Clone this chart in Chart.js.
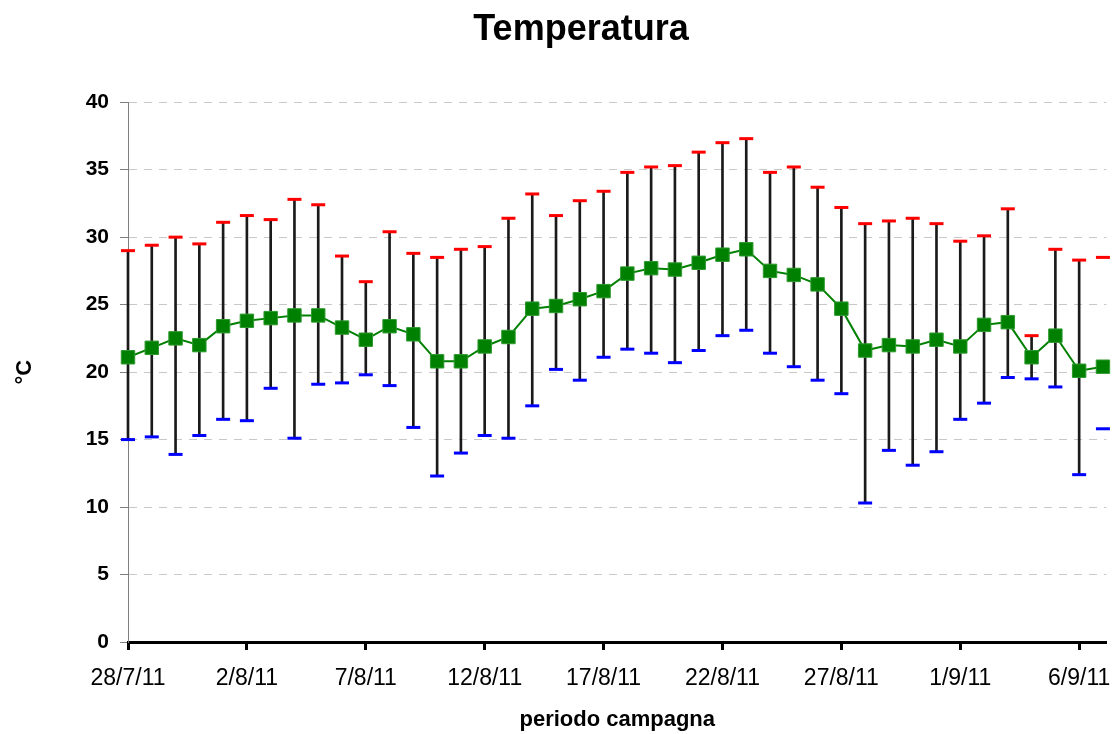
<!DOCTYPE html>
<html>
<head>
<meta charset="utf-8">
<title>Temperatura</title>
<script src="https://cdn.jsdelivr.net/npm/chart.js@4.4.1/dist/chart.umd.min.js"></script>
<style>
  body { margin: 0; background: #fff; }
  #wrap { width: 1117px; height: 734px; }
</style>
</head>
<body>
<div id="wrap"><canvas id="chart"></canvas></div>
<script>
// giorni della campagna (28/7/11 - 7/9/11)
const dates = [
  '28/7/11', '29/7/11', '30/7/11', '31/7/11',
  '1/8/11', '2/8/11', '3/8/11', '4/8/11', '5/8/11', '6/8/11', '7/8/11', '8/8/11',
  '9/8/11', '10/8/11', '11/8/11', '12/8/11', '13/8/11', '14/8/11', '15/8/11', '16/8/11',
  '17/8/11', '18/8/11', '19/8/11', '20/8/11', '21/8/11', '22/8/11', '23/8/11', '24/8/11',
  '25/8/11', '26/8/11', '27/8/11', '28/8/11', '29/8/11', '30/8/11', '31/8/11',
  '1/9/11', '2/9/11', '3/9/11', '4/9/11', '5/9/11', '6/9/11', '7/9/11'
];

// temperatura media giornaliera (°C)
const tMedia = [
  21.1, 21.8, 22.5, 22.0, 23.4, 23.8, 24.0, 24.2, 24.2, 23.3, 22.4, 23.4, 22.8, 20.8,
  20.8, 21.9, 22.6, 24.7, 24.9, 25.4, 26.0, 27.3, 27.7, 27.6, 28.1, 28.7, 29.1, 27.5,
  27.2, 26.5, 24.7, 21.6, 22.0, 21.9, 22.4, 21.9, 23.5, 23.7, 21.1, 22.7, 20.1, 20.4
];

// temperatura massima
const tMax = [
  29.0, 29.4, 30.0, 29.5, 31.1, 31.6, 31.3, 32.8, 32.4, 28.6, 26.7, 30.4, 28.8, 28.5,
  29.1, 29.3, 31.4, 33.2, 31.6, 32.7, 33.4, 34.8, 35.2, 35.3, 36.3, 37.0, 37.3, 34.8,
  35.2, 33.7, 32.2, 31.0, 31.2, 31.4, 31.0, 29.7, 30.1, 32.1, 22.7, 29.1, 28.3, 28.5
];

// temperatura minima
const tMin = [
  15.0, 15.2, 13.9, 15.3, 16.5, 16.4, 18.8, 15.1, 19.1, 19.2, 19.8, 19.0, 15.9, 12.3,
  14.0, 15.3, 15.1, 17.5, 20.2, 19.4, 21.1, 21.7, 21.4, 20.7, 21.6, 22.7, 23.1, 21.4,
  20.4, 19.4, 18.4, 10.3, 14.2, 13.1, 14.1, 16.5, 17.7, 19.6, 19.5, 18.9, 12.4, 15.8
];

const yTicks = [0, 5, 10, 15, 20, 25, 30, 35, 40];

const FONT = "'Liberation Sans', Arial, sans-serif";

// x = index of the day
const points = arr => arr.map((v, i) => ({ x: i, y: v }));

// high-low lines (the last day has none in the original)
const ranges = tMax.map((v, i) => ({ x: i, y: [tMin[i], v] })).slice(0, -1);

// move the title a bit right, like the original
const shiftTitle = {
  id: 'shiftTitle',
  afterLayout(chart) {
    if (chart.titleBlock) chart.titleBlock.left = 54;
  }
};

new Chart(document.getElementById('chart').getContext('2d'), {
  type: 'line',
  data: {
    datasets: [
      {
        type: 'bar',
        data: ranges,
        backgroundColor: '#1a1a1a',
        barThickness: 2,
        clip: false,
        order: 4
      },
      {
        data: points(tMax),
        showLine: false,
        pointStyle: 'line',
        pointRadius: 7,
        pointBorderWidth: 3,
        pointBorderColor: '#ff0000',
        clip: false,
        order: 3
      },
      {
        data: points(tMin),
        showLine: false,
        pointStyle: 'line',
        pointRadius: 7,
        pointBorderWidth: 3,
        pointBorderColor: '#0000ff',
        clip: false,
        order: 2
      },
      {
        data: points(tMedia),
        borderColor: '#008000',
        borderWidth: 2,
        pointStyle: 'rect',
        pointRadius: 9.5,
        pointBackgroundColor: '#008000',
        pointBorderColor: '#2e9a2e',
        pointBorderWidth: 1,
        clip: false,
        order: 1
      }
    ]
  },
  plugins: [shiftTitle],
  options: {
    responsive: true,
    maintainAspectRatio: false,
    animation: false,
    layout: { padding: { left: 0, right: 9, top: 0, bottom: 0 } },
    plugins: {
      legend: { display: false },
      tooltip: { enabled: false },
      title: {
        display: true,
        text: 'Temperatura',
        color: '#000',
        font: { family: FONT, size: 36, weight: 'bold' },
        padding: { top: 8, bottom: 51 }
      }
    },
    scales: {
      x: {
        type: 'linear',
        min: 0,
        max: 41.15,
        offset: false,
        grid: { offset: false, drawOnChartArea: false, drawTicks: true, tickLength: 8, tickColor: '#000', tickWidth: 3 },
        border: { color: '#000', width: 3 },
        ticks: {
          stepSize: 5,
          includeBounds: false,
          autoSkip: false,
          maxRotation: 0,
          padding: 15,
          color: '#000',
          font: { family: FONT, size: 23 },
          callback: v => dates[v]
        },
        title: {
          display: true,
          text: 'periodo campagna',
          color: '#000',
          font: { family: FONT, size: 22, weight: 'bold' },
          padding: { top: 0, bottom: 1 }
        },
        afterFit: s => {
          s.height = 92;
          s.paddingLeft = 0;
          s.paddingRight = 0;
        }
      },
      y: {
        min: 0,
        max: 40,
        afterBuildTicks: s => { s.ticks = yTicks.map(v => ({ value: v })); },
        grid: { color: '#c8c8c8', tickColor: '#808080', tickLength: 8, tickBorderDash: [] },
        border: { color: '#808080', width: 1, dash: [8, 7] },
        ticks: {
          padding: 11,
          color: '#000',
          font: { family: FONT, size: 21, weight: 'bold' }
        },
        title: {
          display: true,
          text: '°C',
          color: '#000',
          font: { family: FONT, size: 22, weight: 'bold' },
          padding: { top: 12, bottom: 0 }
        },
        afterFit: s => { s.width = 128; }
      }
    }
  }
});
</script>
</body>
</html>
